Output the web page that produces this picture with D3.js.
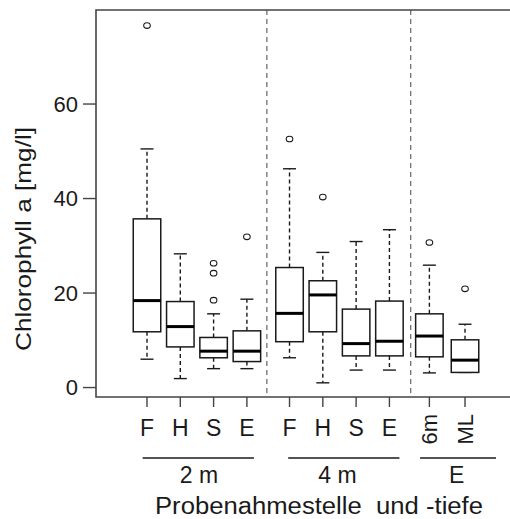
<!DOCTYPE html>
<html><head><meta charset="utf-8">
<script src="https://cdn.jsdelivr.net/npm/d3@7"></script>
<style>html,body{margin:0;padding:0;background:#fff;}svg{display:block;}</style>
</head><body>
<script>
// ---- data ----
const categories = ["F","H","S","E","F","H","S","E","6m","ML"];
const groupNames = ["2 m","4 m","E"];
const groupOf = [0,0,0,0,1,1,1,1,2,2];
const whiskerLow  = [6.0, 1.9, 4.0, 4.0, 6.3, 1.0, 3.7, 3.7, 3.1, 3.2];
const q1          = [11.8, 8.6, 6.3, 5.5, 9.7, 11.8, 6.7, 6.7, 6.5, 3.2];
const median      = [18.4, 12.9, 7.7, 7.7, 15.7, 19.6, 9.3, 9.8, 10.9, 5.8];
const q3          = [35.7, 18.2, 10.6, 12.0, 25.4, 22.6, 16.6, 18.3, 15.6, 10.1];
const whiskerHigh = [50.5, 28.3, 15.6, 18.7, 46.3, 28.6, 30.9, 33.4, 25.9, 13.4];
const outliers    = [[76.6], [], [18.5, 24.2, 26.3], [31.9], [52.6], [40.3], [], [], [30.7], [20.9]];
const yTicks = [0, 20, 40, 60];
const yLabel = "Chlorophyll a [mg/l]";
const xLabel = "Probenahmestelle  und -tiefe";

// ---- layout ----
const W = 510, H = 519;
const atPos = [1,2,3,4,5.28,6.28,7.28,8.28,9.48,10.55];
const separators = [4.6, 8.92];
const groupLineStart = [0.87, 5.24, 9.2];
const groupLineEnd = [4.21, 8.58, 11.48];
const groupLabelPos = [2.56, 6.72, 10.3];

const pLeft = 96, pTop = 10, pBottom = 397;
const x = d3.scaleLinear().domain([1, 2]).range([147, 180.3]);
const y = d3.scaleLinear().domain([-2, 79.9]).range([pBottom, pTop]);
const boxW = 27.5, capW = 13;
const font = "'Liberation Sans', Arial, Helvetica, sans-serif";
const ink = "#1a1a1a";

const svg = d3.select("body").append("svg").attr("width", W).attr("height", H)
  .style("font-family", font);

// separators
svg.selectAll("line.sep").data(separators).join("line")
  .attr("x1", d => x(d)).attr("x2", d => x(d))
  .attr("y1", pTop).attr("y2", pBottom)
  .attr("stroke", "#555").attr("stroke-width", 1.1).attr("stroke-dasharray", "5,4");

// boxes
const g = svg.append("g");
categories.forEach((c, i) => {
  const cx = x(atPos[i]);
  const wd = "4,3";
  g.append("line").attr("x1", cx).attr("x2", cx).attr("y1", y(q3[i])).attr("y2", y(whiskerHigh[i]))
    .attr("stroke", ink).attr("stroke-width", 1.4).attr("stroke-dasharray", wd);
  g.append("line").attr("x1", cx).attr("x2", cx).attr("y1", y(q1[i])).attr("y2", y(whiskerLow[i]))
    .attr("stroke", ink).attr("stroke-width", 1.4).attr("stroke-dasharray", wd);
  [whiskerHigh[i], whiskerLow[i]].forEach(v => {
    g.append("line").attr("x1", cx - capW/2).attr("x2", cx + capW/2).attr("y1", y(v)).attr("y2", y(v))
      .attr("stroke", ink).attr("stroke-width", 1.4);
  });
  g.append("rect").attr("x", cx - boxW/2).attr("width", boxW)
    .attr("y", y(q3[i])).attr("height", y(q1[i]) - y(q3[i]))
    .attr("fill", "#fff").attr("stroke", ink).attr("stroke-width", 1.5);
  g.append("line").attr("x1", cx - boxW/2).attr("x2", cx + boxW/2).attr("y1", y(median[i])).attr("y2", y(median[i]))
    .attr("stroke", "#000").attr("stroke-width", 3);
  outliers[i].forEach(v => {
    g.append("ellipse").attr("cx", cx).attr("cy", y(v)).attr("rx", 3.3).attr("ry", 2.8)
      .attr("fill", "none").attr("stroke", ink).attr("stroke-width", 1.1);
  });
});

// frame (left, top, bottom; right edge cut off)
svg.append("path")
  .attr("d", `M${W+2},${pTop}H${pLeft}V${pBottom}H${W+2}`)
  .attr("fill", "none").attr("stroke", "#444").attr("stroke-width", 1.6);

// y axis ticks
const ya = svg.append("g");
yTicks.forEach(t => {
  ya.append("line").attr("x1", 83).attr("x2", pLeft).attr("y1", y(t)).attr("y2", y(t))
    .attr("stroke", "#444").attr("stroke-width", 1.4);
  ya.append("text").attr("x", 78).attr("y", y(t)).attr("dy", "0.36em")
    .attr("text-anchor", "end").attr("font-size", 22).attr("fill", ink).text(t);
});

// x ticks
const xa = svg.append("g");
categories.forEach((c, i) => {
  const cx = x(atPos[i]);
  xa.append("line").attr("x1", cx).attr("x2", cx).attr("y1", pBottom).attr("y2", 407)
    .attr("stroke", "#444").attr("stroke-width", 1.4);
  if (groupOf[i] < 2) {
    xa.append("text").attr("x", cx).attr("y", 436).attr("text-anchor", "middle")
      .attr("font-size", 23).attr("fill", ink).text(c);
  } else {
    xa.append("text").attr("transform", `translate(${cx + 8},414) rotate(-90)`)
      .attr("text-anchor", "end").attr("font-size", 22).attr("fill", ink).text(c);
  }
});

// group lines + labels
groupNames.forEach((gname, k) => {
  svg.append("line").attr("x1", x(groupLineStart[k])).attr("x2", x(groupLineEnd[k]))
    .attr("y1", 458).attr("y2", 458).attr("stroke", ink).attr("stroke-width", 1.5);
  svg.append("text").attr("x", x(groupLabelPos[k])).attr("y", 483).attr("text-anchor", "middle")
    .attr("font-size", 23).attr("fill", ink).text(gname);
});

// axis titles
svg.append("text").attr("x", 155).attr("y", 514)
  .attr("font-size", 23).attr("fill", ink)
  .attr("textLength", 328).attr("lengthAdjust", "spacingAndGlyphs")
  .style("white-space", "pre").text(xLabel);

svg.append("text").attr("transform", "translate(31,239) rotate(-90)")
  .attr("text-anchor", "middle").attr("font-size", 22).attr("fill", ink)
  .attr("textLength", 224).attr("lengthAdjust", "spacingAndGlyphs")
  .text(yLabel);
</script>
</body></html>
